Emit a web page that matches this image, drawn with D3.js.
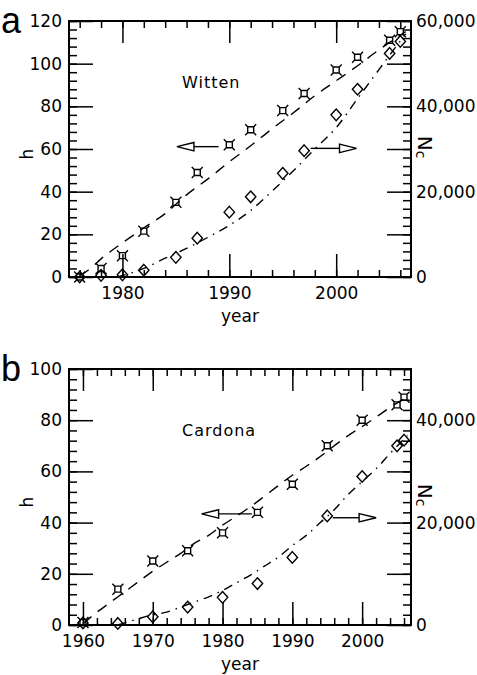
<!DOCTYPE html>
<html>
<head>
<meta charset="utf-8">
<script src="https://cdn.jsdelivr.net/npm/d3@7"></script>
<style>
  html, body { margin: 0; padding: 0; background: #fff; }
  svg { display: block; }
</style>
</head>
<body>
<svg id="chart" width="477" height="675"></svg>
<script>
// ---------------- DATA ----------------
// Panel a : Witten
const yearsA = [1976, 1978, 1980, 1982, 1985, 1987, 1990, 1992, 1995, 1997, 2000, 2002, 2005, 2006];
const hIndexA = [0, 4, 10, 21.5, 35, 49, 62, 69, 78, 86, 97, 103, 111, 115];
const ncA = [0, 400, 500, 1600, 4600, 9100, 15200, 18800, 24300, 29600, 38000, 44000, 52400, 55200];
const fitYearsA_h = [1976, 1977, 1978, 1980, 1982, 1984, 1986, 1988, 1990, 1992, 1994, 1996, 1998, 2000, 2002, 2004, 2006.5];
const fitA_h = [0.5, 4, 8.5, 16, 23, 29.7, 38.5, 46, 54, 61.5, 69.5, 77, 85, 92, 99, 106.5, 115];
const fitYearsA_nc = [1979.5, 1982, 1984, 1986, 1988, 1990, 1992, 1994, 1996, 1998, 2000, 2002, 2004, 2006.5];
const fitA_nc = [0, 2000, 4400, 6700, 9300, 12100, 15600, 20100, 24900, 30000, 35000, 41800, 48600, 57000];

// Panel b : Cardona
const yearsB = [1960, 1965, 1970, 1975, 1980, 1985, 1990, 1995, 2000, 2005, 2006];
const hIndexB = [1, 14, 25, 29, 36, 44, 55, 70, 80, 86, 89];
const ncB = [400, 300, 1600, 3500, 5400, 8100, 13200, 21300, 29000, 35000, 36100];
const fitYearsB_h = [1960, 1962, 1964, 1966, 1968, 1970, 1972, 1974, 1976, 1978, 1980, 1982, 1984, 1986, 1988, 1990, 1992, 1994, 1996, 1998, 2000, 2002, 2004, 2006.5];
const fitB_h = [0.5, 5, 9, 13, 17, 21, 24.5, 28, 32, 35, 39, 42.5, 46.2, 50.3, 54.5, 58.5, 62, 65.8, 70, 74, 77.5, 81.2, 85, 89];
const fitYearsB_nc = [1965, 1968, 1970, 1972, 1974, 1976, 1978, 1980, 1982, 1984, 1986, 1988, 1990, 1992, 1994, 1996, 1998, 2000, 2002, 2004, 2006.5];
const fitB_nc = [0, 1250, 2000, 2500, 3500, 4500, 5500, 6750, 8250, 9750, 11500, 13250, 15500, 17500, 20000, 22500, 25500, 28000, 30500, 33500, 37000];

// Tick values / labels
const xMajorA = [1980, 1990, 2000];
const xMinorA = d3.range(1976, 2007, 2);
const xMajorB = [1960, 1970, 1980, 1990, 2000];
const xMinorB = d3.range(1960, 2007, 2);
const hMajorA = [0, 20, 40, 60, 80, 100, 120];
const hMinorA = d3.range(0, 121, 4);
const hMajorB = [0, 20, 40, 60, 80, 100];
const hMinorB = d3.range(0, 101, 4);
const ncMajorA = [0, 10000, 20000, 30000, 40000, 50000, 60000];
const ncMinorA = d3.range(0, 60001, 2000);
const ncMajorB = [0, 10000, 20000, 30000, 40000, 50000];
const ncMinorB = d3.range(0, 50001, 2000);
const ncLabelStep = 20000;

// Annotations (arrows in data units: [year, value])
const arrowsA = [
  { axis: "h",  from: [1989.0, 61.1], to: [1985.1, 61.1] },
  { axis: "nc", from: [1997.6, 30150], to: [2001.9, 30150] }
];
const arrowsB = [
  { axis: "h",  from: [1984.2, 43.4], to: [1977.0, 43.4] },
  { axis: "nc", from: [1995.8, 20950], to: [2002.0, 20950] }
];

// ---------------- DRAW ----------------
const FONT = "DejaVu Sans, sans-serif";
const svg = d3.select("#chart");

const panels = [
  { letter: "a", name: "Witten", left: 69, top: 21, right: 411, bottom: 277,
    xDomain: [1975, 2007], hDomain: [0, 120], ncDomain: [0, 60000],
    xMajor: xMajorA, xMinor: xMinorA, hMajor: hMajorA, hMinor: hMinorA,
    ncMajor: ncMajorA, ncMinor: ncMinorA,
    years: yearsA, h: hIndexA, nc: ncA,
    fitH: fitYearsA_h.map((y, i) => [y, fitA_h[i]]),
    fitN: fitYearsA_nc.map((y, i) => [y, fitA_nc[i]]),
    arrows: arrowsA },
  { letter: "b", name: "Cardona", left: 69, top: 369, right: 411, bottom: 625,
    xDomain: [1958, 2007], hDomain: [0, 100], ncDomain: [0, 50000],
    xMajor: xMajorB, xMinor: xMinorB, hMajor: hMajorB, hMinor: hMinorB,
    ncMajor: ncMajorB, ncMinor: ncMinorB,
    years: yearsB, h: hIndexB, nc: ncB,
    fitH: fitYearsB_h.map((y, i) => [y, fitB_h[i]]),
    fitN: fitYearsB_nc.map((y, i) => [y, fitB_nc[i]]),
    arrows: arrowsB }
];

function styleAxis(sel, sw) {
  sel.select(".domain").remove();
  sel.attr("font-family", FONT).attr("font-size", 17);
  sel.selectAll(".tick line").attr("stroke", "#000").attr("stroke-width", sw);
  sel.selectAll(".tick text").attr("fill", "#000");
}

const starPath = "M-3,-3 L3,-3 L3,3 L-3,3 Z M-3,-3 L-5.5,-5.5 M3,-3 L5.5,-5.5 M3,3 L5.5,5.5 M-3,3 L-5.5,5.5";
const diamondPath = "M0,-5.8 L5.2,0 L0,5.8 L-5.2,0 Z";

panels.forEach(p => {
  const g = svg.append("g");
  const x = d3.scaleLinear().domain(p.xDomain).range([p.left, p.right]);
  const yh = d3.scaleLinear().domain(p.hDomain).range([p.bottom, p.top]);
  const yn = d3.scaleLinear().domain(p.ncDomain).range([p.bottom, p.top]);

  // bottom axis
  g.append("g").attr("transform", `translate(0,${p.bottom})`)
    .call(d3.axisBottom(x).tickValues(p.xMinor).tickSize(-7).tickFormat(""))
    .call(s => styleAxis(s, 1.5));
  g.append("g").attr("transform", `translate(0,${p.bottom})`)
    .call(d3.axisBottom(x).tickValues(p.xMajor).tickSize(-23).tickPadding(10).tickFormat(d3.format("d")))
    .call(s => styleAxis(s, 1.5));
  // top axis
  g.append("g").attr("transform", `translate(0,${p.top})`)
    .call(d3.axisTop(x).tickValues(p.xMinor).tickSize(-7).tickFormat(""))
    .call(s => styleAxis(s, 1.5));
  g.append("g").attr("transform", `translate(0,${p.top})`)
    .call(d3.axisTop(x).tickValues(p.xMajor).tickSize(-22).tickFormat(""))
    .call(s => styleAxis(s, 1.5));
  // left axis
  g.append("g").attr("transform", `translate(${p.left},0)`)
    .call(d3.axisLeft(yh).tickValues(p.hMinor).tickSize(-8).tickFormat(""))
    .call(s => styleAxis(s, 1.5));
  g.append("g").attr("transform", `translate(${p.left},0)`)
    .call(d3.axisLeft(yh).tickValues(p.hMajor).tickSize(-24).tickPadding(7).tickFormat(d3.format("d")))
    .call(s => styleAxis(s, 1.5));
  // right axis
  g.append("g").attr("transform", `translate(${p.right},0)`)
    .call(d3.axisRight(yn).tickValues(p.ncMinor).tickSize(-8).tickFormat(""))
    .call(s => styleAxis(s, 1.5));
  g.append("g").attr("transform", `translate(${p.right},0)`)
    .call(d3.axisRight(yn).tickValues(p.ncMajor).tickSize(-24).tickPadding(5)
      .tickFormat(d => d % ncLabelStep === 0 ? d3.format(",")(d) : ""))
    .call(s => styleAxis(s, 1.5));

  // frame
  g.append("rect").attr("x", p.left).attr("y", p.top)
    .attr("width", p.right - p.left).attr("height", p.bottom - p.top)
    .attr("fill", "none").attr("stroke", "#000").attr("stroke-width", 2);

  // fit curves
  const lineH = d3.line().x(d => x(d[0])).y(d => yh(d[1])).curve(d3.curveMonotoneX);
  const lineN = d3.line().x(d => x(d[0])).y(d => yn(d[1])).curve(d3.curveMonotoneX);
  g.append("path").attr("d", lineH(p.fitH)).attr("fill", "none")
    .attr("stroke", "#000").attr("stroke-width", 1.4).attr("stroke-dasharray", "11,8");
  g.append("path").attr("d", lineN(p.fitN)).attr("fill", "none")
    .attr("stroke", "#000").attr("stroke-width", 1.4).attr("stroke-dasharray", "9,6,1.5,6");

  // markers
  g.selectAll(".sq").data(p.years.map((y, i) => [y, p.h[i]])).join("path")
    .attr("transform", d => `translate(${x(d[0])},${yh(d[1])})`)
    .attr("d", starPath).attr("fill", "none").attr("stroke", "#000").attr("stroke-width", 1.4);
  g.selectAll(".dm").data(p.years.map((y, i) => [y, p.nc[i]])).join("path")
    .attr("transform", d => `translate(${x(d[0])},${yn(d[1])})`)
    .attr("d", diamondPath).attr("fill", "none").attr("stroke", "#000").attr("stroke-width", 1.4);

  // arrows
  p.arrows.forEach(a => {
    const ys = a.axis === "h" ? yh : yn;
    const x1 = x(a.from[0]), y1 = ys(a.from[1]);
    const x2 = x(a.to[0]), y2 = ys(a.to[1]);
    const dir = Math.sign(x2 - x1);
    const headLen = 17, headHalf = 4.2;
    const bx = x2 - dir * headLen;
    g.append("line").attr("x1", x1).attr("y1", y1).attr("x2", bx).attr("y2", y2)
      .attr("stroke", "#000").attr("stroke-width", 1.4);
    g.append("path").attr("d", `M${x2},${y2} L${bx},${y2 - headHalf} L${bx},${y2 + headHalf} Z`)
      .attr("fill", "#fff").attr("stroke", "#000").attr("stroke-width", 1.4);
  });

  // name label
  g.append("text").attr("x", p.left + 113).attr("y", p.top + 67)
    .attr("font-family", FONT).attr("font-size", 16).attr("letter-spacing", 1)
    .text(p.name);

  // axis titles
  g.append("text").attr("transform", `translate(33,${(p.top + p.bottom) / 2 + 5}) rotate(-90)`)
    .attr("text-anchor", "middle").attr("font-family", FONT).attr("font-size", 17).text("h");
  const nc = g.append("text").attr("transform", `translate(418,${(p.top + p.bottom) / 2 - 2}) rotate(90)`)
    .attr("text-anchor", "middle").attr("font-family", FONT).attr("font-size", 20);
  nc.append("tspan").text("N");
  nc.append("tspan").attr("dy", 2).attr("font-size", 14).text("c");

  g.append("text").attr("x", (p.left + p.right) / 2).attr("y", p.bottom + 45)
    .attr("text-anchor", "middle").attr("font-family", FONT).attr("font-size", 17).text("year");

  // panel letter
  g.append("text").attr("x", 1).attr("y", p.top + 12)
    .attr("font-family", "Liberation Sans, Arial, sans-serif").attr("font-size", 36).text(p.letter);
});
</script>
</body>
</html>
